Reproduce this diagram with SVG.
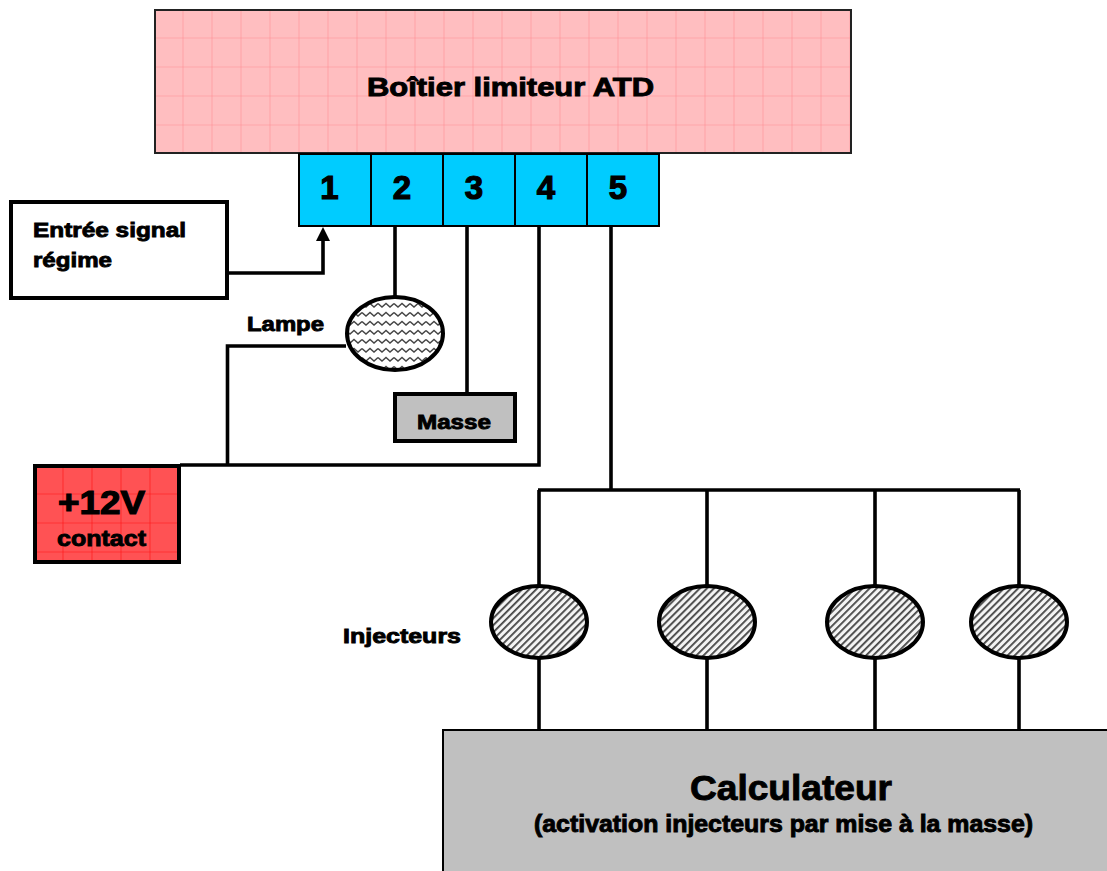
<svg xmlns="http://www.w3.org/2000/svg" width="1107" height="871" viewBox="0 0 1107 871">
<style>
text{font-family:"Liberation Sans",Arial,sans-serif;font-weight:bold;fill:#000;stroke:#000;stroke-width:.9px}
.w{fill:none;stroke:#000;stroke-width:3.6px}
.t{stroke:#000;stroke-width:2px;fill:#0cf}
.s{font-size:21px}
.d{font-size:33px;stroke-width:1.2px}
.b{stroke:#000;stroke-width:4px}
</style>
<defs>
<pattern id="pk" width="29" height="29" patternUnits="userSpaceOnUse" x="154.500" y="9.500">
<rect width="29" height="29" fill="#ffbec0"/><path d="M29 0V29M0 29H29" stroke="#ff8f93" stroke-width="1.200" fill="none"/>
</pattern>
<pattern id="rd" width="29" height="29" patternUnits="userSpaceOnUse" x="34.500" y="465.500">
<rect width="29" height="29" fill="#ff5254"/><path d="M29 0V29M0 29H29" stroke="#f11" stroke-width="1.200" fill="none"/>
</pattern>
<pattern id="wave" width="16" height="9" patternUnits="userSpaceOnUse" x="346" y="302">
<rect width="16" height="9" fill="#fff"/><path d="M0 1.500L4 5L8 1.500L12 5L16 1.500" stroke="#444" stroke-width="1.400" fill="none"/>
</pattern>
<pattern id="hatch" width="5" height="5" patternUnits="userSpaceOnUse" patternTransform="rotate(-45)">
<rect width="5" height="5" fill="#f4f4f4"/><rect width="5" height="1.800" fill="#444"/>
</pattern>
</defs>
<g id="connectors">
<path class="w" d="M229 273H323V241"/>
<path d="M316 241H330L323 227Z" fill="#000"/>
<path class="w" d="M395 226V298"/>
<path class="w" d="M467 226V393"/>
<path class="w" d="M539 226V465H180"/>
<path class="w" d="M346 346H227.500V465"/>
<path class="w" d="M611 226V490"/>
<path class="w" d="M538 490H1020"/>
<path class="w" d="M539 490V586M707 490V586M875 490V586M1019 490V586"/>
<path class="w" d="M539 658V730M707 658V730M875 658V730M1019 658V730"/>
</g>
<g id="boitier">
<rect x="155" y="10" width="696" height="143" fill="url(#pk)" stroke="#222" stroke-width="2"/>
<text x="367" y="96" font-size="25" textLength="287" lengthAdjust="spacingAndGlyphs">Boîtier limiteur ATD</text>
</g>
<g id="terminal-1"><rect class="t" x="299" y="154" width="72" height="72"/><text class="d" x="329.500" y="199" text-anchor="middle">1</text></g>
<g id="terminal-2"><rect class="t" x="371" y="154" width="72" height="72"/><text class="d" x="402" y="199" text-anchor="middle">2</text></g>
<g id="terminal-3"><rect class="t" x="443" y="154" width="72" height="72"/><text class="d" x="474" y="199" text-anchor="middle">3</text></g>
<g id="terminal-4"><rect class="t" x="515" y="154" width="72" height="72"/><text class="d" x="546" y="199" text-anchor="middle">4</text></g>
<g id="terminal-5"><rect class="t" x="587" y="154" width="72" height="72"/><text class="d" x="618" y="199" text-anchor="middle">5</text></g>
<g id="entree-signal">
<rect x="11" y="202" width="216" height="96" fill="#fff" stroke="#000" stroke-width="4"/>
<text class="s" x="33" y="237" textLength="153" lengthAdjust="spacingAndGlyphs">Entrée signal</text>
<text class="s" x="33" y="267" textLength="79" lengthAdjust="spacingAndGlyphs">régime</text>
</g>
<g id="lampe">
<ellipse class="b" cx="395" cy="333.500" rx="48" ry="36.500" fill="url(#wave)"/>
<text class="s" x="247" y="331" textLength="77" lengthAdjust="spacingAndGlyphs">Lampe</text>
</g>
<g id="masse">
<rect class="b" x="395" y="394" width="120" height="47" fill="#c0c0c0"/>
<text class="s" x="417" y="429" textLength="74" lengthAdjust="spacingAndGlyphs">Masse</text>
</g>
<g id="contact">
<rect class="b" x="35" y="466" width="144" height="96" fill="url(#rd)"/>
<text x="58" y="514" font-size="34" style="stroke-width:1.200px" textLength="87" lengthAdjust="spacingAndGlyphs">+12V</text>
<text x="57" y="546" font-size="22" textLength="89" lengthAdjust="spacingAndGlyphs">contact</text>
</g>
<g id="injecteur-1"><ellipse class="b" cx="539" cy="622" rx="48" ry="36" fill="url(#hatch)"/></g>
<g id="injecteur-2"><ellipse class="b" cx="707" cy="622" rx="48" ry="36" fill="url(#hatch)"/></g>
<g id="injecteur-3"><ellipse class="b" cx="875" cy="622" rx="48" ry="36" fill="url(#hatch)"/></g>
<g id="injecteur-4"><ellipse class="b" cx="1019" cy="622" rx="48" ry="36" fill="url(#hatch)"/></g>
<text class="s" x="343" y="643" textLength="118" lengthAdjust="spacingAndGlyphs" id="label-injecteurs">Injecteurs</text>
<g id="calculateur">
<rect x="443" y="730" width="670" height="150" fill="#c0c0c0" stroke="#000" stroke-width="2"/>
<text x="690" y="800" font-size="35" textLength="202" lengthAdjust="spacingAndGlyphs">Calculateur</text>
<text x="534" y="832" font-size="23" textLength="499" lengthAdjust="spacingAndGlyphs">(activation injecteurs par mise à la masse)</text>
</g>
</svg>
